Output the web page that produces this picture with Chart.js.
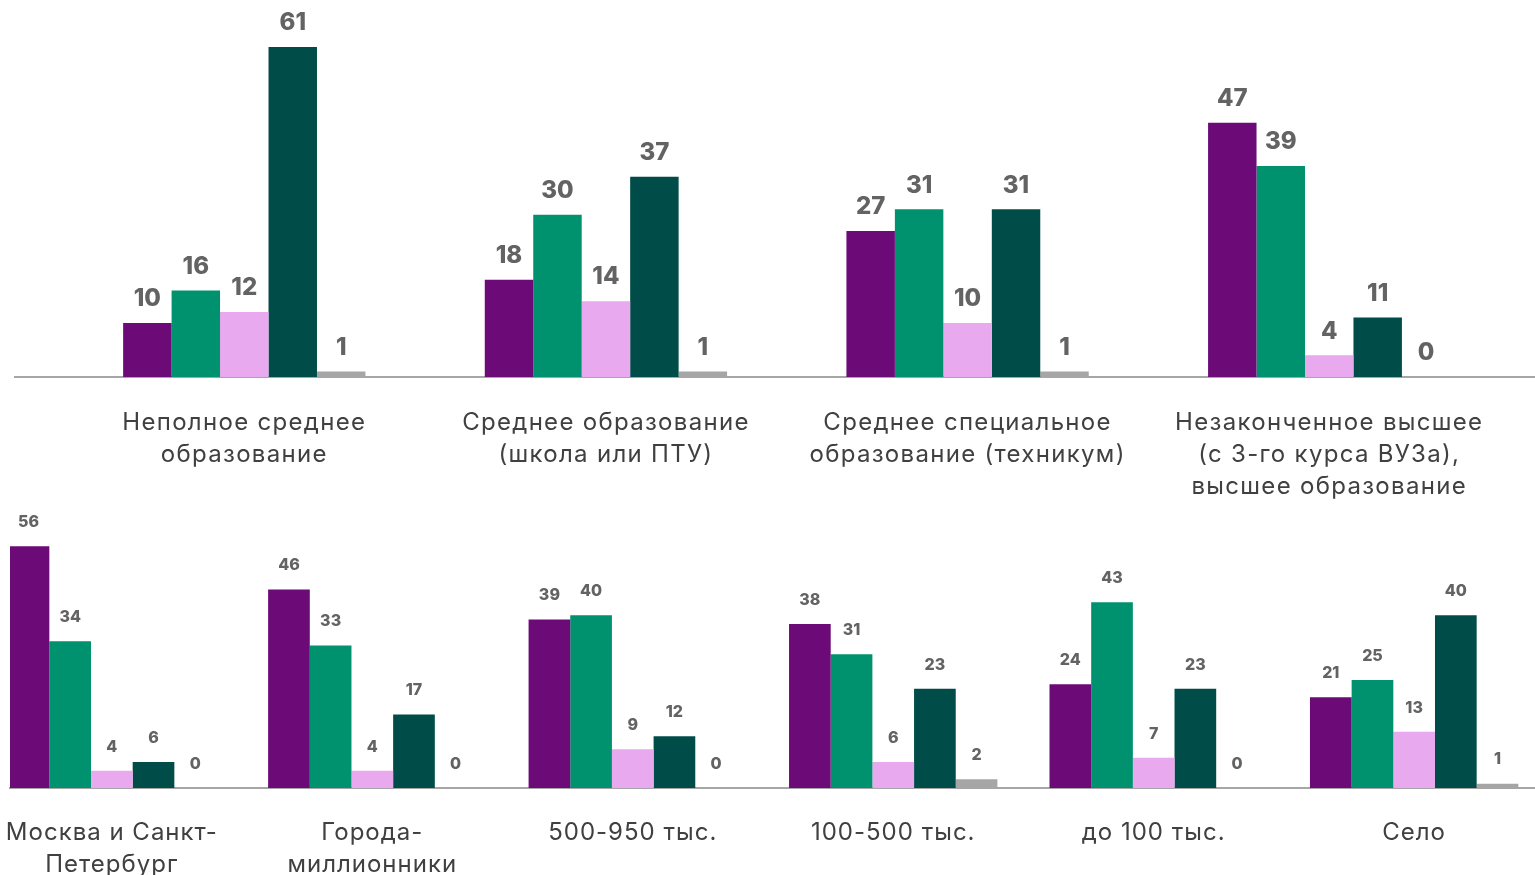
<!DOCTYPE html>
<html>
<head>
<meta charset="utf-8">
<script src="https://cdn.jsdelivr.net/npm/chart.js@4.4.0/dist/chart.umd.min.js"></script>
<style>
    html, body {
        margin: 0;
        padding: 0;
        background: #ffffff;
        overflow: hidden;
    }
    .box {
        position: absolute;
        left: 0;
        width: 1535px;
    }
    #topBox { top: 0; height: 505px; }
    #bottomBox { top: 500px; height: 375px; }
</style>
</head>
<body>
<div class="box" id="topBox"><canvas id="top"></canvas></div>
<div class="box" id="bottomBox"><canvas id="bottom"></canvas></div>
<script>
// --- data -------------------------------------------------------------
const seriesNames = ["Ряд 1", "Ряд 2", "Ряд 3", "Ряд 4", "Ряд 5"];
const seriesColors = ["#6c0a78", "#00916e", "#e8a9ee", "#004c48", "#a6a6a6"];

const educationLabels = [
    ["Неполное среднее", "образование"],
    ["Среднее образование", "(школа или ПТУ)"],
    ["Среднее специальное", "образование (техникум)"],
    ["Незаконченное высшее", "(с 3-го курса ВУЗа),", "высшее образование"],
];
const eduSeries1 = [10, 18, 27, 47];
const eduSeries2 = [16, 30, 31, 39];
const eduSeries3 = [12, 14, 10, 4];
const eduSeries4 = [61, 37, 31, 11];
const eduSeries5 = [1, 1, 1, 0];

const settlementLabels = [
    ["Москва и Санкт-", "Петербург"],
    ["Города-", "миллионники"],
    "500-950 тыс.",
    "100-500 тыс.",
    "до 100 тыс.",
    "Село",
];
const setSeries1 = [56, 46, 39, 38, 24, 21];
const setSeries2 = [34, 33, 40, 31, 43, 25];
const setSeries3 = [4, 4, 9, 6, 7, 13];
const setSeries4 = [6, 17, 12, 23, 23, 40];
const setSeries5 = [0, 0, 0, 2, 0, 1];

// wider tracking for the category labels, values above every bar
const valueLabels = {
    id: "valueLabels",
    beforeDraw(chart, args, opts) {
        chart.ctx.letterSpacing = opts.tracking;
    },
    afterDatasetsDraw(chart, args, opts) {
        const ctx = chart.ctx;
        ctx.save();
        ctx.letterSpacing = "0px";
        ctx.font = opts.font;
        ctx.fillStyle = "#636363";
        ctx.textAlign = "center";
        ctx.textBaseline = "middle";
        chart.data.datasets.forEach((ds, i) => {
            chart.getDatasetMeta(i).data.forEach((bar, j) => {
                ctx.fillText(String(ds.data[j].y), bar.x, bar.y - opts.offset);
            });
        });
        ctx.restore();
    },
};

function makeChart(id, labels, series, opts) {
    const datasets = series.map((values, s) => ({
        label: seriesNames[s],
        data: values.map((v, i) => ({ x: i, y: v })),
        backgroundColor: seriesColors[s],
        borderWidth: 0,
        categoryPercentage: opts.groupWidth,
        barPercentage: 1.0,
    }));
    return new Chart(document.getElementById(id), {
        type: "bar",
        data: { datasets },
        options: {
            responsive: true,
            maintainAspectRatio: false,
            animation: false,
            layout: { padding: { left: opts.left, right: 0, top: 0, bottom: 0 } },
            plugins: {
                legend: { display: false },
                tooltip: { enabled: false },
                valueLabels: {
                    font: opts.valueFont,
                    offset: opts.valueOffset,
                    tracking: opts.tracking,
                },
            },
            scales: {
                x: {
                    type: "linear",
                    offset: false,
                    bounds: "data",
                    min: opts.xMin,
                    max: opts.xMax,
                    afterBuildTicks: (axis) => {
                        axis.ticks = labels.map((_, i) => ({ value: i }));
                    },
                    afterFit: (axis) => {
                        // labels may run past the edges, as in the original
                        axis.height = opts.axisHeight;
                        axis.paddingLeft = 0;
                        axis.paddingRight = 0;
                    },
                    ticks: {
                        callback: (v) => labels[v],
                        autoSkip: false,
                        maxRotation: 0,
                        color: "#404040",
                        padding: opts.tickPadding,
                        font: { family: "Inter", size: 24, lineHeight: 1.33 },
                    },
                    grid: { display: false, drawTicks: false, offset: false },
                    border: { display: true, color: "#a6a6a6", width: 2 },
                },
                y: {
                    display: false,
                    min: 0,
                    max: opts.yMax,
                },
            },
        },
        plugins: [valueLabels],
    });
}

makeChart("top", educationLabels,
    [eduSeries1, eduSeries2, eduSeries3, eduSeries4, eduSeries5], {
        left: 15,
        xMin: -0.634,
        xMax: 3.569,
        groupWidth: 0.67,
        yMax: 69.7,
        axisHeight: 128,
        tickPadding: 30,
        valueFont: "800 24px Inter",
        valueOffset: 24,
        tracking: "1.3px",
    });

makeChart("bottom", settlementLabels,
    [setSeries1, setSeries2, setSeries3, setSeries4, setSeries5], {
        left: 10,
        xMin: -0.391,
        xMax: 5.464,
        groupWidth: 0.8,
        yMax: 66.7,
        axisHeight: 87,
        tickPadding: 29,
        valueFont: "800 16px Inter",
        valueOffset: 24,
        tracking: "1px",
    });
</script>
</body>
</html>
